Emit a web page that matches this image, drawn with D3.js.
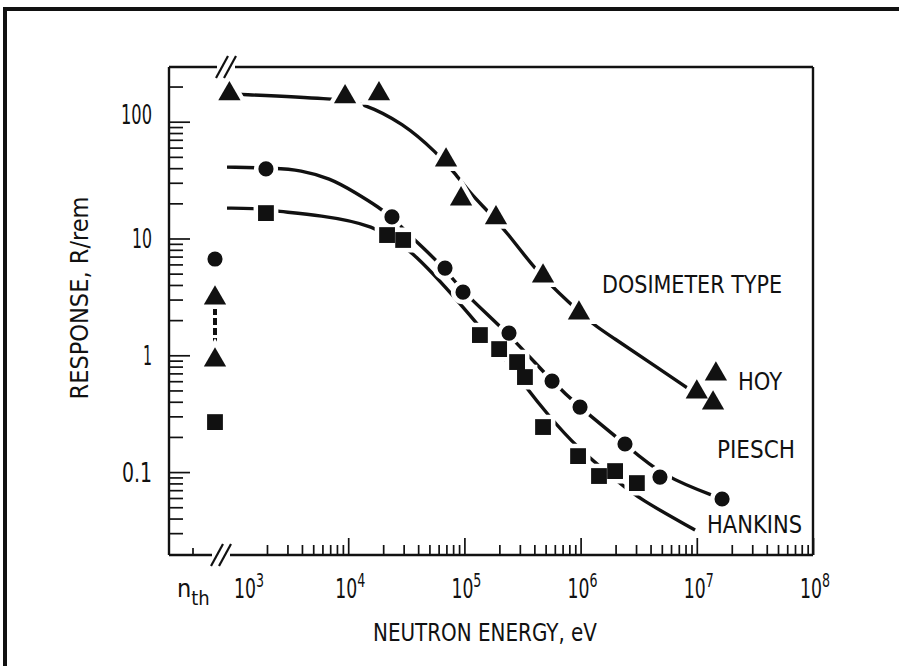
<!DOCTYPE html>
<html>
<head>
<meta charset="utf-8">
<script src="https://cdn.jsdelivr.net/npm/d3@7"></script>
<style>
  html, body { margin: 0; padding: 0; background: #fff; overflow: hidden; }
  svg { display: block; }
  text { font-family: "Liberation Sans Narrow", "Arial Narrow", "DejaVu Sans Condensed", sans-serif; fill: #111; }
</style>
</head>
<body>
<svg id="chart" width="899" height="666"></svg>
<script>
// ---- Measured responses (R/rem) versus neutron energy (eV) ----
const hoyEnergy     = [950, 9400, 18400, 69500, 93600, 187000, 475000, 968000, 1.0e7, 1.38e7, 1.46e7];
const hoyResponse   = [173, 163, 173, 47.0, 21.8, 15.0, 4.76, 2.30, 0.484, 0.390, 0.690];

const pieschEnergy   = [1960, 23800, 68100, 97300, 242000, 568000, 989000, 2.41e6, 4.82e6, 1.65e7];
const pieschResponse = [39.4, 15.3, 5.58, 3.47, 1.55, 0.601, 0.360, 0.174, 0.0906, 0.0588];

const hankinsEnergy   = [1960, 21600, 29700, 136000, 199000, 284000, 332000, 475000, 951000, 1.44e6, 1.98e6, 3.05e6];
const hankinsResponse = [16.5, 10.7, 9.71, 1.49, 1.13, 0.875, 0.651, 0.243, 0.137, 0.0925, 0.102, 0.0805];

// Thermal-neutron (n_th) responses
const hoyThermal     = [3.09, 0.91];
const pieschThermal  = [6.67];
const hankinsThermal = [0.268];

// ---- Fitted response curves ----
const hoyFitEnergy   = [961, 8000, 13200, 29700, 58100, 83000, 112000, 156000, 233000, 422000, 811000, 1.28e6, 1.90e6, 3.73e6, 8.74e6];
const hoyFitResponse = [173, 157, 145, 97.5, 53.9, 36.3, 24.4, 17.5, 11.3, 5.13, 2.78, 1.83, 1.42, 0.90, 0.507];

const pieschFitEnergy   = [906, 2440, 3845, 6970, 11400, 18800, 23800, 39100, 68100, 97300, 242000, 568000, 989000, 2.41e6, 4.92e6, 1.65e7];
const pieschFitResponse = [40.8, 40.1, 38.5, 32.9, 24.9, 18.2, 15.2, 9.27, 5.55, 3.45, 1.53, 0.594, 0.356, 0.175, 0.0927, 0.0589];

const hankinsFitEnergy   = [906, 1520, 2440, 5710, 16300, 36100, 123000, 202000, 346000, 514000, 931000, 2.18e6, 3.12e6, 9.66e6];
const hankinsFitResponse = [18.2, 18.2, 17.1, 15.8, 13.2, 7.96, 1.99, 1.07, 0.518, 0.316, 0.161, 0.0805, 0.0599, 0.0319];

// ---- Axis ticks and labels ----
const yTickValues = [0.1, 1, 10, 100];
const yTickLabels = ["0.1", "1", "10", "100"];
const xTickExponents = [3, 4, 5, 6, 7, 8];
const thermalLabel = ["n", "th"];
const seriesNames = ["HOY", "PIESCH", "HANKINS"];
const legendTitle = "DOSIMETER TYPE";
const xTitle = "NEUTRON ENERGY, eV";
const yTitle = "RESPONSE, R/rem";

// ---- Scales ----
const x = d3.scaleLog().domain([1e3, 1e8]).range([232, 813]);
const y = d3.scaleLog().domain([0.0195, 294]).range([555, 67]);
const xThermal = 215;          // column that holds the thermal points
const frame = { left: 169, right: x(1e8), top: y.range()[1], bottom: y.range()[0] };

const svg = d3.select("#chart");
const ink = "#111";

// Paper
svg.append("rect").attr("width", 899).attr("height", 666).attr("fill", "#fff");

// Page border (left and top edges; the sheet continues past the window)
svg.append("path")
  .attr("d", "M5,700V9H960")
  .attr("fill", "none").attr("stroke", ink).attr("stroke-width", 4);

// ---- Ticks (drawn inward) ----
const xMinor = d3.range(3, 8).flatMap(k => d3.range(2, 10).map(m => m * Math.pow(10, k)));
const xMajor = d3.range(4, 9).map(k => Math.pow(10, k));
const yMinor = d3.range(-2, 3).flatMap(k => d3.range(2, 10).map(m => m * Math.pow(10, k)))
  .filter(v => y(v) < frame.bottom - 3 && y(v) > frame.top + 3);

function tickGroup(axis, transform) {
  const g = svg.append("g").attr("transform", transform).call(axis);
  g.select(".domain").remove();
  g.selectAll("line").attr("stroke", ink).attr("stroke-width", 1.7);
  g.selectAll("text").remove();
  return g;
}
tickGroup(d3.axisBottom(x).tickValues(xMinor).tickSize(-10), `translate(0,${frame.bottom})`);
tickGroup(d3.axisBottom(x).tickValues(xMajor).tickSize(-17), `translate(0,${frame.bottom})`);
tickGroup(d3.axisLeft(y).tickValues(yMinor).tickSize(-14), `translate(${frame.left},0)`);
tickGroup(d3.axisLeft(y).tickValues(yTickValues).tickSize(-21), `translate(${frame.left},0)`);

// thermal tick
svg.append("line")
  .attr("x1", xThermal - 22).attr("x2", xThermal - 22)
  .attr("y1", frame.bottom).attr("y2", frame.bottom - 7)
  .attr("stroke", ink).attr("stroke-width", 1.7);

// ---- Frame with axis breaks ----
const breakTop = 226, breakBottom = 221;
const framePath = [
  `M${frame.left},${frame.top}V${frame.bottom}`,
  `M${frame.left},${frame.bottom}H${breakBottom - 9}`,
  `M${breakBottom + 9},${frame.bottom}H${frame.right}`,
  `M${frame.left},${frame.top}H${breakTop - 9}`,
  `M${breakTop + 9},${frame.top}H${frame.right}`,
  `M${frame.right},${frame.top}V${frame.bottom}`
].join("");
svg.append("path").attr("d", framePath).attr("fill", "none")
  .attr("stroke", ink).attr("stroke-width", 2.4);

function breakMark(cx, cy) {
  [-4, 4].forEach(off => {
    svg.append("line")
      .attr("x1", cx + off - 6).attr("y1", cy + 11)
      .attr("x2", cx + off + 6).attr("y2", cy - 11)
      .attr("stroke", ink).attr("stroke-width", 2.2);
  });
}
breakMark(breakTop, frame.top);
breakMark(breakBottom, frame.bottom);

// ---- Tick labels (narrow, tall lettering) ----
const yNudge = { 100: -8 };
const yLabelWidth = { "0.1": 30, "1": 9, "10": 20, "100": 31 };
svg.append("g").selectAll("text").data(yTickValues).join("text")
  .attr("x", 152)
  .attr("y", d => y(d) + 10 + (yNudge[d] || 0))
  .attr("text-anchor", "end")
  .attr("font-size", 26)
  .attr("textLength", (d, i) => yLabelWidth[yTickLabels[i]])
  .attr("lengthAdjust", "spacingAndGlyphs")
  .text((d, i) => yTickLabels[i]);

// powers of ten, written as one label with a raised exponent
const xNudge = { 3: 15 };
const xLab = svg.append("g").selectAll("text").data(xTickExponents).join("text")
  .attr("x", d => x(Math.pow(10, d)) + 2 + (xNudge[d] || 0))
  .attr("y", 598)
  .attr("text-anchor", "middle")
  .attr("font-size", 26)
  .attr("textLength", 30)
  .attr("lengthAdjust", "spacingAndGlyphs");
xLab.append("tspan").text("10");
xLab.append("tspan").attr("dy", -11).attr("font-size", 19).text(d => d);

const nthX = 177;
const nth = svg.append("text").attr("x", nthX).attr("y", 597).attr("font-size", 25);
nth.append("tspan").text(thermalLabel[0]);
nth.append("tspan").attr("dy", 8).attr("font-size", 20).text(thermalLabel[1]);

// ---- Axis titles ----
svg.append("text")
  .attr("x", 485).attr("y", 641)
  .attr("text-anchor", "middle").attr("font-size", 25)
  .attr("textLength", 224).attr("lengthAdjust", "spacingAndGlyphs")
  .text(xTitle);

svg.append("text")
  .attr("transform", "translate(88,298) rotate(-90)")
  .attr("text-anchor", "middle").attr("font-size", 25)
  .attr("textLength", 203).attr("lengthAdjust", "spacingAndGlyphs")
  .text(yTitle);

// ---- Series ----
const series = [
  { name: seriesNames[0], energy: hoyEnergy, response: hoyResponse, fitE: hoyFitEnergy, fitR: hoyFitResponse,
    thermal: hoyThermal, symbol: d3.symbolTriangle, size: 215 },
  { name: seriesNames[1], energy: pieschEnergy, response: pieschResponse, fitE: pieschFitEnergy, fitR: pieschFitResponse,
    thermal: pieschThermal, symbol: d3.symbolCircle, size: 180 },
  { name: seriesNames[2], energy: hankinsEnergy, response: hankinsResponse, fitE: hankinsFitEnergy, fitR: hankinsFitResponse,
    thermal: hankinsThermal, symbol: d3.symbolSquare, size: 250 }
];

const line = d3.line().x(d => x(d[0])).y(d => y(d[1])).curve(d3.curveBasis);

series.forEach(s => {
  svg.append("path")
    .datum(d3.zip(s.fitE, s.fitR))
    .attr("d", line)
    .attr("fill", "none").attr("stroke", ink).attr("stroke-width", 3.4);
});

// dashed link between the two thermal HOY readings
svg.append("line")
  .attr("x1", xThermal).attr("x2", xThermal)
  .attr("y1", y(d3.max(hoyThermal))).attr("y2", y(d3.min(hoyThermal)))
  .attr("stroke", ink).attr("stroke-width", 4).attr("stroke-dasharray", "7,3");

// markers: white halo first (breaks the curves around each point), then the filled symbol
function markerPoints(s) {
  return d3.zip(s.energy, s.response).map(d => ({ px: x(d[0]), py: y(d[1]), s }))
    .concat(s.thermal.map(v => ({ px: xThermal, py: y(v), s })));
}
const allPoints = series.flatMap(markerPoints);

svg.append("g").selectAll("path").data(allPoints).join("path")
  .attr("transform", d => `translate(${d.px},${d.py})`)
  .attr("d", d => d3.symbol(d.s.symbol, d.s.size)())
  .attr("fill", "#fff").attr("stroke", "#fff").attr("stroke-width", 9);

svg.append("g").selectAll("path").data(allPoints).join("path")
  .attr("transform", d => `translate(${d.px},${d.py})`)
  .attr("d", d => d3.symbol(d.s.symbol, d.s.size)())
  .attr("fill", ink);

// ---- Legend labels ----
svg.append("text").attr("x", 602).attr("y", 293).attr("font-size", 24)
  .attr("textLength", 180).attr("lengthAdjust", "spacingAndGlyphs").text(legendTitle);

const legendPos = [
  { x: 738, y: 390, w: 44 },
  { x: 717, y: 458, w: 78 },
  { x: 707, y: 533, w: 95 }
];
svg.append("g").selectAll("text").data(seriesNames).join("text")
  .attr("x", (d, i) => legendPos[i].x)
  .attr("y", (d, i) => legendPos[i].y)
  .attr("font-size", 24)
  .attr("textLength", (d, i) => legendPos[i].w).attr("lengthAdjust", "spacingAndGlyphs")
  .text(d => d);
</script>
</body>
</html>
